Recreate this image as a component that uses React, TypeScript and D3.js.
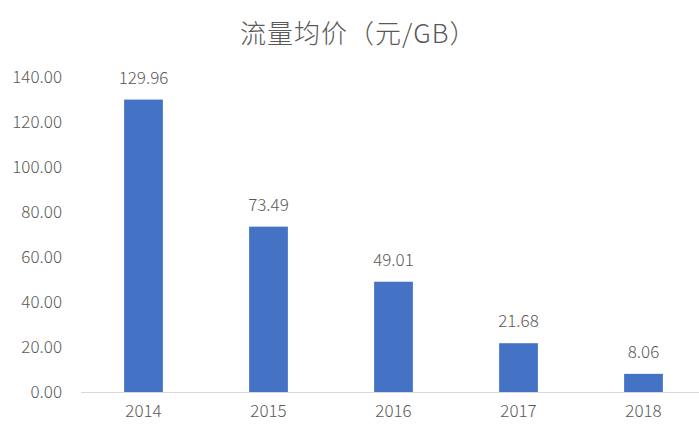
import { useEffect, useRef } from "react";
import * as d3 from "d3";

const years = ["2014", "2015", "2016", "2017", "2018"];
const prices = [129.96, 73.49, 49.01, 21.68, 8.06];
const yTicks = [0, 20, 40, 60, 80, 100, 120, 140];
const title = "流量均价（元/GB）";

const W = 699;
const H = 426;
const FONT = "'Noto Sans CJK SC', 'Noto Sans', sans-serif";

export default function App() {
    const svgRef = useRef<SVGSVGElement | null>(null);

    useEffect(() => {
        const svg = d3.select(svgRef.current!);
        svg.selectAll("*").remove();

        // plot area, right edge runs past the picture like in the original
        const x = d3.scaleBand<string>().domain(years).range([81, 706]).padding(0);
        const y = d3.scaleLinear().domain([0, 140]).range([392, 77]);
        const barW = x.bandwidth() * 0.31;

        svg.append("rect").attr("width", W).attr("height", H).attr("fill", "#fff");

        // title
        svg.append("text")
            .attr("x", 240)
            .attr("y", 43)
            .attr("text-anchor", "start")
            .style("font-family", FONT)
            .style("font-size", "26px")
            .style("font-weight", 300)
            .style("letter-spacing", "1px")
            .style("fill", "#595959")
            .text(title);

        // y tick labels
        svg.append("g")
            .selectAll("text")
            .data(yTicks)
            .join("text")
            .attr("x", 62)
            .attr("y", (d) => y(d))
            .attr("dy", "0.35em")
            .attr("text-anchor", "end")
            .style("font-family", FONT)
            .style("font-size", "17px")
            .style("font-weight", 300)
            .style("fill", "#595959")
            .text((d) => d3.format(".2f")(d));

        // bars
        svg.append("g")
            .selectAll("rect")
            .data(prices)
            .join("rect")
            .attr("x", (_, i) => x(years[i])! + (x.bandwidth() - barW) / 2)
            .attr("y", (d) => y(d))
            .attr("width", barW)
            .attr("height", (d) => y(0) - y(d))
            .attr("fill", "#4472C4");

        // value labels
        svg.append("g")
            .selectAll("text")
            .data(prices)
            .join("text")
            .attr("x", (_, i) => x(years[i])! + x.bandwidth() / 2)
            .attr("y", (d) => y(d) - 16)
            .attr("text-anchor", "middle")
            .style("font-family", FONT)
            .style("font-size", "17px")
            .style("font-weight", 300)
            .style("fill", "#595959")
            .text((d) => d.toFixed(2));

        // baseline
        svg.append("line")
            .attr("x1", 81)
            .attr("x2", 706)
            .attr("y1", y(0) + 0.5)
            .attr("y2", y(0) + 0.5)
            .attr("stroke", "#D9D9D9")
            .attr("stroke-width", 1.2);

        // x labels
        svg.append("g")
            .selectAll("text")
            .data(years)
            .join("text")
            .attr("x", (d) => x(d)! + x.bandwidth() / 2)
            .attr("y", 417)
            .attr("text-anchor", "middle")
            .style("font-family", FONT)
            .style("font-size", "17px")
            .style("font-weight", 300)
            .style("fill", "#595959")
            .text((d) => d);
    }, []);

    return (
        <svg
            ref={svgRef}
            width={W}
            height={H}
            style={{ position: "absolute", left: 0, top: 0, display: "block" }}
        />
    );
}
